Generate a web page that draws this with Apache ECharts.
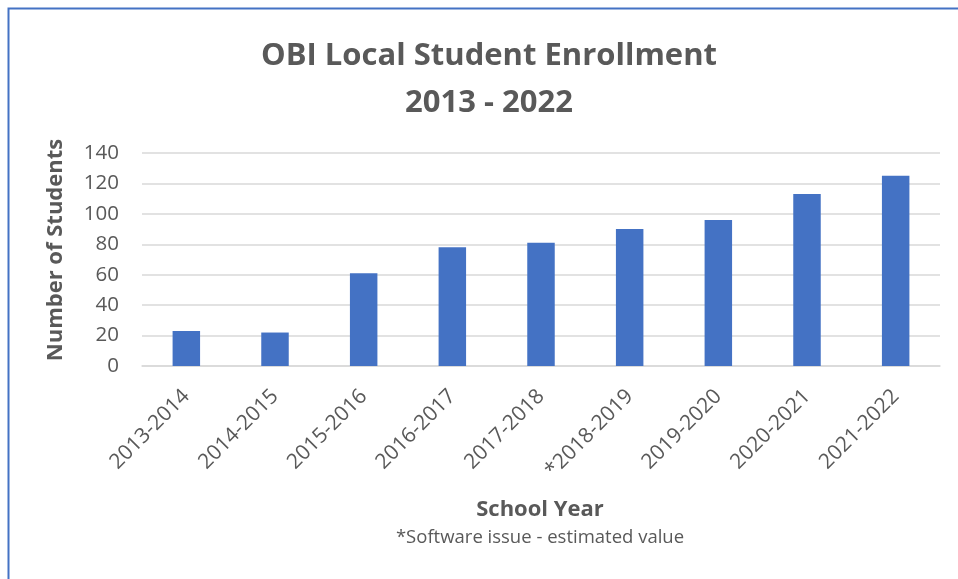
<!DOCTYPE html>
<html>
<head>
<meta charset="utf-8">
<script src="https://cdn.jsdelivr.net/npm/echarts@6/dist/echarts.min.js"></script>
<style>
html,body{margin:0;padding:0;background:#fff;}
#chart{width:958px;height:579px;}
</style>
</head>
<body>
<div id="chart"></div>
<script>
const categories = ['2013-2014','2014-2015','2015-2016','2016-2017','2017-2018','*2018-2019','2019-2020','2020-2021','2021-2022'];
const students = [23, 22, 61, 78, 81, 90, 96, 113, 125];
const yTicks = {min: 0, max: 140, interval: 20};
const titleText = 'OBI Local Student Enrollment\n2013 - 2022';
const yName = 'Number of Students';
const xName = 'School Year';
const note = '*Software issue - estimated value';

const FONT = '"Open Sans", Lato, sans-serif';
const chart = echarts.init(document.getElementById('chart'), null, {renderer:'canvas'});
chart.setOption({
  backgroundColor: '#fff',
  animation: false,
  textStyle: {fontFamily: FONT},
  title: {
    text: titleText,
    left: 484, top: 28, textAlign: 'center',
    textStyle: {fontFamily: FONT, fontSize: 31, fontWeight: 'bold', color: '#595959', lineHeight: 47}
  },
  grid: {left: 142, right: 18, top: 153, bottom: 213, containLabel: false},
  xAxis: {
    type: 'category',
    data: categories,
    axisLine: {show: true, lineStyle: {color: '#D9D9D9', width: 1.5}},
    axisTick: {show: false},
    axisLabel: {rotate: 45, margin: 27, fontSize: 21, color: '#595959', fontFamily: FONT, interval: 0}
  },
  yAxis: {
    type: 'value',
    min: yTicks.min, max: yTicks.max, interval: yTicks.interval,
    axisLine: {show: false},
    axisTick: {show: false},
    axisLabel: {margin: 23, fontSize: 20.5, color: '#595959', fontFamily: FONT},
    splitLine: {lineStyle: {color: '#D9D9D9', width: 1.5}}
  },
  series: [{
    type: 'bar',
    data: students,
    barWidth: '31%',
    itemStyle: {color: '#4472C4'}
  }],
  graphic: [
    {type: 'rect', shape: {x: 8.5, y: 8.5, width: 1200, height: 1200}, style: {fill: 'none', stroke: '#4472C4', lineWidth: 2}, silent: true},
    {type: 'text', x: 56, y: 250, rotation: Math.PI/2, style: {text: yName, fontFamily: FONT, fontSize: 22, fontWeight: 'bold', fill: '#595959', align: 'center', verticalAlign: 'middle'}},
    {type: 'text', x: 540, y: 510, style: {text: xName, fontFamily: FONT, fontSize: 22, fontWeight: 'bold', fill: '#595959', align: 'center', verticalAlign: 'middle'}},
    {type: 'text', x: 540, y: 538, style: {text: note, fontFamily: FONT, fontSize: 18.5, fill: '#595959', align: 'center', verticalAlign: 'middle'}}
  ]
});
</script>
</body>
</html>
